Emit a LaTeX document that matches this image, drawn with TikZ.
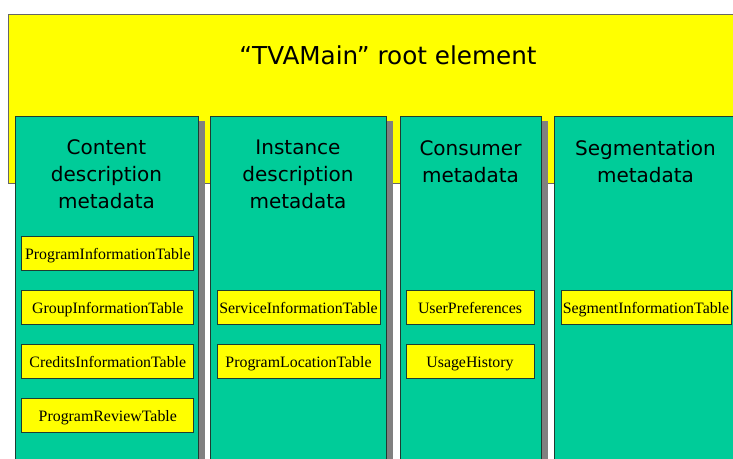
\documentclass[tikz,border=0pt]{standalone}
\usepackage{fontspec}
\usetikzlibrary{shadows}
\newfontfamily\headfont{DejaVu Sans}
\newfontfamily\tablefont{Liberation Serif}
\definecolor{rootyellow}{HTML}{FFFF00}
\definecolor{metateal}{HTML}{00CC99}
\definecolor{shadowgray}{HTML}{808080}
\definecolor{rootedge}{HTML}{666666}
\definecolor{boxedge}{HTML}{1E3C32}
\tikzset{
  rootbox/.style={draw=rootedge, line width=0.9pt, fill=rootyellow, anchor=north west,
    inner sep=0pt, minimum width=552.75pt, minimum height=126.75pt},
  colbox/.style={draw=boxedge, line width=0.75pt, fill=metateal, anchor=north west,
    inner sep=0pt, minimum height=265.5pt,
    drop shadow={shadow xshift=4.9pt, shadow yshift=-3.75pt, fill=shadowgray, opacity=1}},
  coltitle/.style={font=\headfont\fontsize{15pt}{20.25pt}\selectfont, align=center,
    inner sep=0pt, text=black},
  tablebox/.style={draw=boxedge, line width=0.75pt, fill=rootyellow, inner sep=0pt,
    minimum height=25.5pt, text height=11.4pt, text depth=2.5pt,
    font=\tablefont\fontsize{11.9pt}{13pt}\selectfont},
}
\begin{document}
\begin{tikzpicture}[x=0.75pt, y=-0.75pt]
  \useasboundingbox (0,0) rectangle (733,459);
  \begin{scope}
    \clip (0,0) rectangle (733,459);
    % root element
    \node[rootbox] (root) at (8,14) {};
    \node[font=\headfont\fontsize{18.5pt}{22pt}\selectfont, inner sep=0pt] (roottitle) at (388,55) {“TVAMain” root element};
    % metadata columns
    \node[colbox, minimum width=137.25pt] (content) at (15,116) {};
    \node[colbox, minimum width=132pt] (instance) at (210,116) {};
    \node[colbox, minimum width=105.75pt] (consumer) at (400,116) {};
    \node[colbox, minimum width=137.25pt] (segment) at (554,116) {};
    % column titles
    \node[coltitle] (contentT) at (106.5,174.5) {Content\\description\\metadata};
    \node[coltitle] (instanceT) at (298,174.5) {Instance\\description\\metadata};
    \node[coltitle] (consumerT) at (470.5,161.5) {Consumer\\metadata};
    \node[coltitle] (segmentT) at (645.5,161.5) {Segmentation\\metadata};
    % tables of the content description
    \node[tablebox, minimum width=129pt] (pit) at (107.8,253.7) {ProgramInformationTable};
    \node[tablebox, minimum width=129pt] (git) at (107.8,307.5) {GroupInformationTable};
    \node[tablebox, minimum width=129pt] (cit) at (107.8,362) {CreditsInformationTable};
    \node[tablebox, minimum width=129pt] (prt) at (107.8,416) {ProgramReviewTable};
    % tables of the instance description
    \node[tablebox, minimum width=122.25pt] (sit) at (298.5,307.5) {ServiceInformationTable};
    \node[tablebox, minimum width=122.25pt] (plt) at (298.5,362) {ProgramLocationTable};
    % consumer tables
    \node[tablebox, minimum width=96pt] (up) at (470,307.5) {UserPreferences};
    \node[tablebox, minimum width=96pt] (uh) at (470,362) {UsageHistory};
    % segmentation table
    \node[tablebox, minimum width=127.5pt] (seg) at (646,307.5) {SegmentInformationTable};
  \end{scope}
\end{tikzpicture}
\end{document}
